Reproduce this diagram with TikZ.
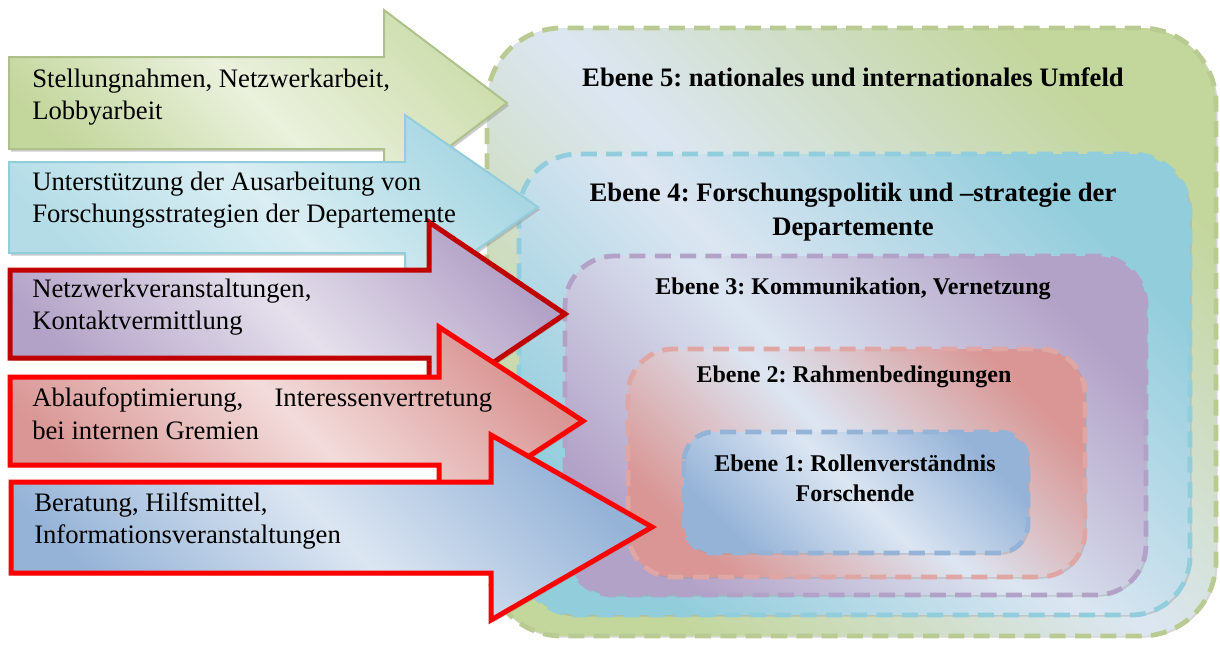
\documentclass[tikz,border=0pt]{standalone}
\usepackage{fontspec}
\setmainfont{Liberation Serif}
\frenchspacing
\usetikzlibrary{shadows}

\definecolor{hellblau}{HTML}{DCE6F2}
\definecolor{gruen}{HTML}{C3D69B}
\definecolor{gruenhell}{HTML}{EAF1DD}
\definecolor{tuerkis}{HTML}{92CDDC}
\definecolor{tuerkishell}{HTML}{DAEEF3}
\definecolor{lila}{HTML}{B3A2C7}
\definecolor{lilahell}{HTML}{E5E0EC}
\definecolor{rot}{HTML}{D99694}
\definecolor{rothell}{HTML}{F2DCDB}
\definecolor{blau}{HTML}{95B3D7}
\definecolor{dunkelrot}{HTML}{C00000}
\definecolor{signalrot}{HTML}{FF0000}

\tikzset{
  ebene/.style={line width=3.6pt, dash pattern=on 12pt off 7pt,
    drop shadow={shadow xshift=1.2pt, shadow yshift=-1.2pt, fill=gray!80, opacity=.4}},
  pfeil/.style={line join=miter,
    drop shadow={shadow xshift=1.5pt, shadow yshift=-2pt, fill=gray!80, opacity=.5}},
  titel/.style={font=\bfseries\fontsize{20}{25}\selectfont, align=center, inner sep=0pt},
  titelklein/.style={font=\bfseries\fontsize{18}{22.5}\selectfont, align=center, inner sep=0pt},
  mtext/.style={font=\fontsize{20}{24.5}\selectfont, align=left, anchor=west, inner sep=0pt}
}

\begin{document}
\begin{tikzpicture}[x=0.75pt,y=-0.75pt]
\useasboundingbox (0,0) rectangle (1220,644);
% Ebenen
\path[ebene, draw=gruen!95!black, left color=gruen, right color=gruen, middle color=hellblau, shading angle=135, rounded corners=56pt] (487,28) rectangle (1216,636);
\path[ebene, draw=tuerkis, left color=tuerkis, right color=tuerkis, middle color=hellblau, shading angle=135, rounded corners=44pt] (519,154) rectangle (1190,615);
\path[ebene, draw=lila, left color=lila, right color=lila, middle color=hellblau, shading angle=135, rounded corners=37pt] (565,256) rectangle (1146,595);
\path[ebene, draw=rot!85, left color=rot, right color=rot, middle color=hellblau, shading angle=135, rounded corners=34pt] (628,349) rectangle (1085,577);
\path[ebene, draw=blau, left color=blau, right color=blau, middle color=hellblau, shading angle=135, rounded corners=22pt] (684,432) rectangle (1028,553);
% Pfeile
\path[pfeil, draw=gruen!90!black, line width=1.5pt, left color=gruen, right color=gruen!80, middle color=gruenhell, shading angle=135]
  (9,57) -- (384,57) -- (384,10) -- (507,103) -- (384,196) -- (384,149) -- (9,149) -- cycle;
\path[pfeil, draw=tuerkis, line width=1.5pt, left color=tuerkis!70, right color=tuerkis!80, middle color=tuerkishell, shading angle=135]
  (9,162) -- (405,162) -- (405,115) -- (538,207) -- (405,300) -- (405,253) -- (9,253) -- cycle;
\path[pfeil, draw=dunkelrot, line width=3.75pt, left color=lila, right color=lila, middle color=lilahell, shading angle=135]
  (10,270) -- (429,270) -- (429,222) -- (565,314) -- (429,406) -- (429,358) -- (10,358) -- cycle;
\path[pfeil, draw=signalrot, line width=3.75pt, left color=rot, right color=rot, middle color=rothell, shading angle=135]
  (10,377) -- (439,377) -- (439,327) -- (583,421) -- (439,515) -- (439,465) -- (10,465) -- cycle;
\path[pfeil, draw=signalrot, line width=3.75pt, left color=blau, right color=blau, middle color=hellblau, shading angle=135]
  (11,482) -- (491,482) -- (491,435) -- (652,527) -- (491,620) -- (491,573) -- (11,573) -- cycle;
% Texte
\node[mtext] (pfeil1) at (32,97) {Stellungnahmen, Netzwerkarbeit,\\Lobbyarbeit};
\node[mtext] (pfeil2) at (32,200) {Unterstützung der Ausarbeitung von\\Forschungsstrategien der Departemente};
\node[mtext] (pfeil3) at (32,307) {Netzwerkveranstaltungen,\\Kontaktvermittlung};
\node[mtext] (pfeil4) at (32,414) {\makebox[345pt][l]{Ablaufoptimierung,\hfill Interessenvertretung}\\bei internen Gremien};
\node[mtext] (pfeil5) at (34,521) {Beratung, Hilfsmittel,\\Informationsveranstaltungen};
\node[titel] (ebene5) at (853,77) {Ebene 5: nationales und internationales Umfeld};
\node[titel] (ebene4) at (853,212) {Ebene 4: Forschungspolitik und –strategie der\\Departemente};
\node[titelklein] (ebene3) at (853,289) {Ebene 3: Kommunikation, Vernetzung};
\node[titelklein] (ebene2) at (854,377) {Ebene 2: Rahmenbedingungen};
\node[titelklein] (ebene1) at (855,478) {Ebene 1: Rollenverständnis\\Forschende};
\end{tikzpicture}
\end{document}
